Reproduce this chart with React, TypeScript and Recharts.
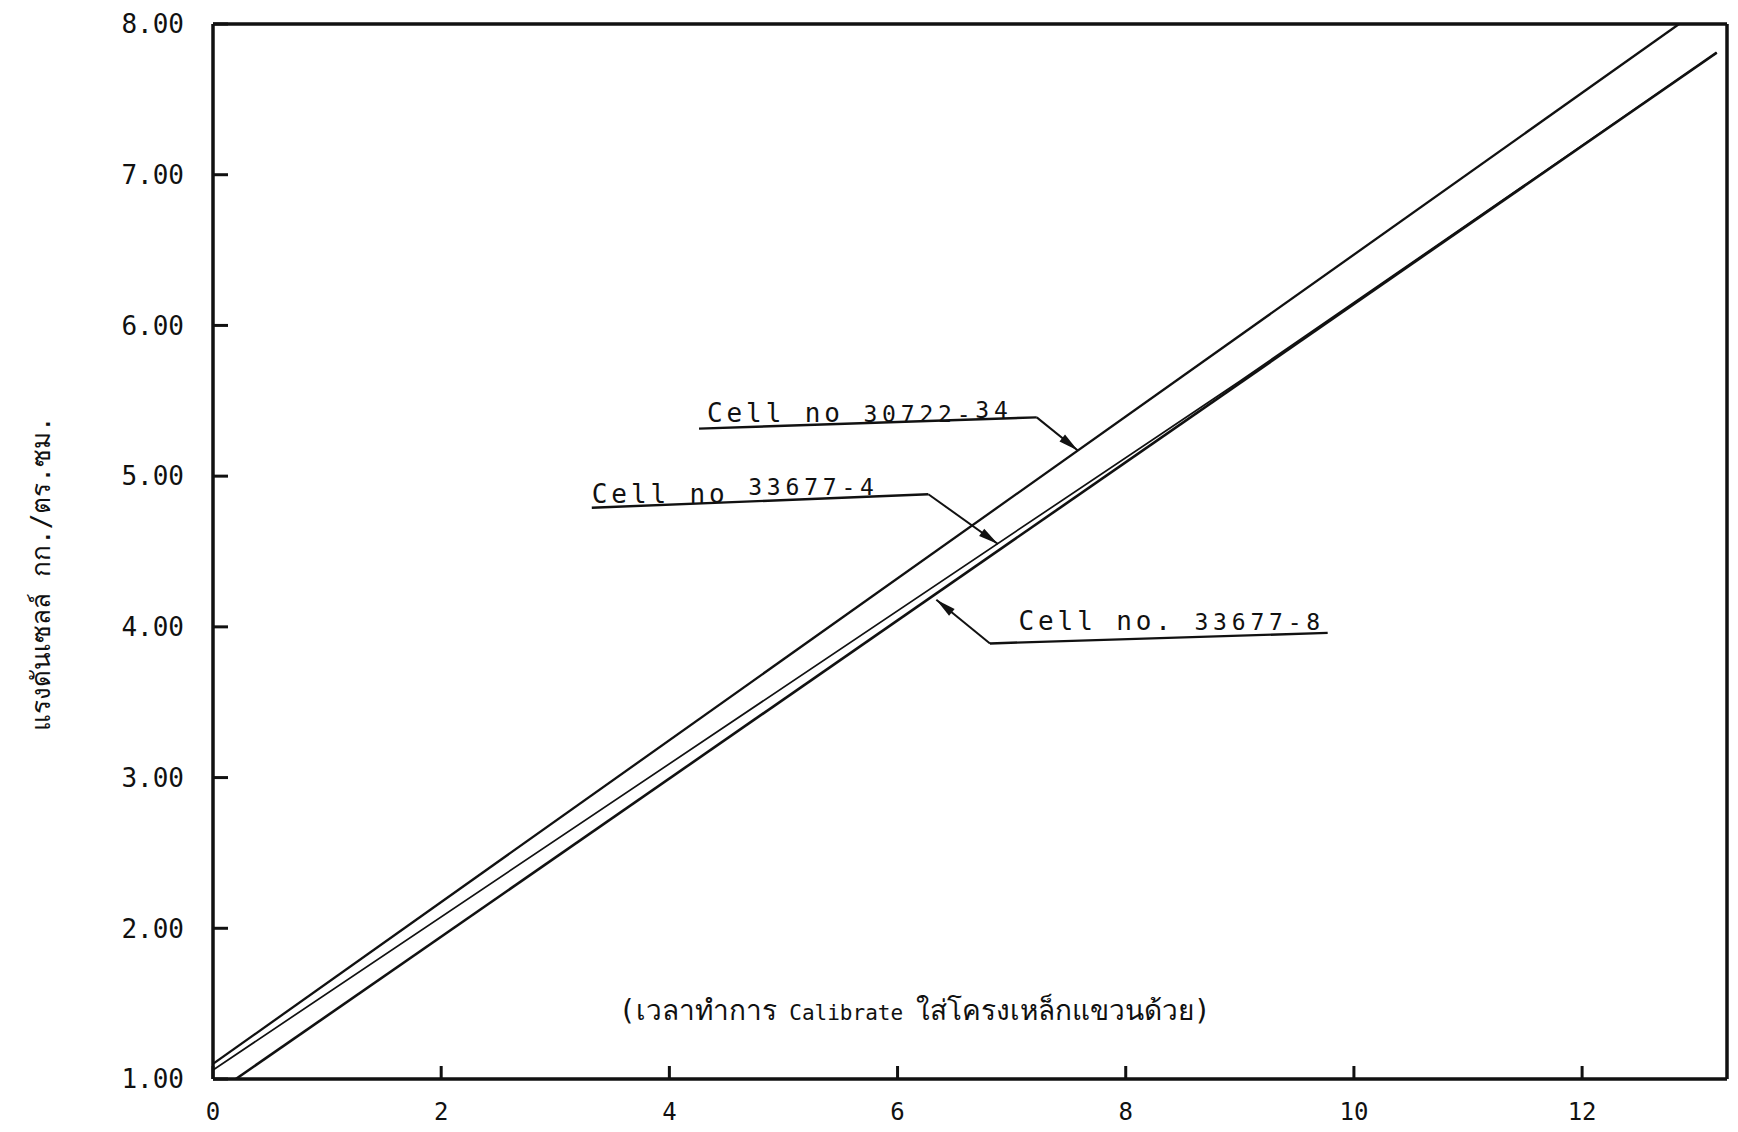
import React from "react";
import {
  LineChart,
  Line,
  XAxis,
  YAxis,
  ReferenceLine,
  ReferenceDot,
} from "recharts";

// calibration lines (time vs. cell pressure)
const X_TICKS = [0, 2, 4, 6, 8, 10, 12];
const Y_TICKS = [1, 2, 3, 4, 5, 6, 7, 8];
const X_MAX = 13.27;

const cell30722_34 = [
  { t: 0, p: 1.1 },
  { t: 12.85, p: 8.0 },
];
const cell33677_4 = [
  { t: 0, p: 1.06 },
  { t: 9.0, p: 5.63 },
  { t: 13.18, p: 7.81 },
];
const cell33677_8 = [
  { t: 0.2, p: 1.0 },
  { t: 13.18, p: 7.81 },
];

// leader annotations, in data units: text anchor, underline, arrow tip
const notes = [
  {
    id: "a",
    head: "Cell no ",
    code: [["30722-", 0], ["34", 4]] as [string, number][],
    textAt: [4.33, 5.36],
    under: [[4.26, 5.315], [7.22, 5.39]],
    arrow: [[7.22, 5.39], [7.58, 5.17]],
  },
  {
    id: "b",
    head: "Cell no ",
    code: [["33677-4", 8]] as [string, number][],
    textAt: [3.32, 4.825],
    under: [[3.32, 4.79], [6.27, 4.88]],
    arrow: [[6.27, 4.88], [6.88, 4.55]],
  },
  {
    id: "c",
    head: "Cell no. ",
    code: [["33677-8", 0]] as [string, number][],
    textAt: [7.06, 3.976],
    under: [[6.81, 3.89], [9.77, 3.96]],
    arrow: [[6.81, 3.89], [6.34, 4.18]],
  },
];

const NOTE_AT = [6.15, 1.39];
const NOTE_PARTS = ["(เวลาทำการ", " Calibrate ", "ใส่โครงเหล็กแขวนด้วย)"];
const Y_TITLE = "แรงดันเซลล์ กก./ตร.ซม.";

const INK = "#111";
const MONO = "'DejaVu Sans Mono', 'Liberation Mono', monospace";

function ArrowSeg(props: any) {
  const { x1, y1, x2, y2 } = props;
  const dx = x2 - x1;
  const dy = y2 - y1;
  const len = Math.hypot(dx, dy) || 1;
  const ux = dx / len;
  const uy = dy / len;
  const L = 20;
  const W = 4.4;
  const bx = x2 - ux * L;
  const by = y2 - uy * L;
  const pts = `${x2},${y2} ${bx - uy * W},${by + ux * W} ${bx + uy * W},${by - ux * W}`;
  return (
    <g>
      <line x1={x1} y1={y1} x2={x2} y2={y2} stroke={INK} strokeWidth={2} />
      <polygon points={pts} fill={INK} />
    </g>
  );
}

function UnderSeg(props: any) {
  const { x1, y1, x2, y2 } = props;
  return <line x1={x1} y1={y1} x2={x2} y2={y2} stroke={INK} strokeWidth={2.4} />;
}

function noteLabel(head: string, code: [string, number][]) {
  return function NoteText(props: any) {
    const { cx, cy } = props;
    let prev = 0;
    return (
      <text x={cx} y={cy} fill={INK} fontFamily={MONO}>
        <tspan fontSize={26} letterSpacing={3.9}>
          {head}
        </tspan>
        {code.map(([s, rise], i) => {
          const d = prev - rise;
          prev = rise;
          return (
            <tspan key={i} fontSize={23} letterSpacing={4.8} dy={d}>
              {s}
            </tspan>
          );
        })}
      </text>
    );
  };
}

function BottomNote(props: any) {
  const { cx, cy } = props;
  return (
    <text x={cx} y={cy} textAnchor="middle" fill={INK} fontFamily={MONO} fontSize={21}>
      <tspan fontSize={28}>{NOTE_PARTS[0]}</tspan>
      <tspan>{NOTE_PARTS[1]}</tspan>
      <tspan fontSize={28}>{NOTE_PARTS[2]}</tspan>
    </text>
  );
}

function YTitle(props: any) {
  const vb = props.viewBox || { x: 0, y: 23, width: 212, height: 1056 };
  const cx = vb.x + 41;
  const cy = vb.y + vb.height / 2 + 22;
  return (
    <text
      x={cx}
      y={cy}
      transform={`rotate(-90 ${cx} ${cy})`}
      textAnchor="middle"
      dominantBaseline="central"
      fill={INK}
      fontFamily={MONO}
      fontSize={26}
    >
      {Y_TITLE}
    </text>
  );
}

export default function App() {
  return (
    <div style={{ position: "absolute", left: 0, top: 0, width: 1738, height: 1132, background: "#fff" }}>
      <LineChart
        width={1738}
        height={1132}
        margin={{ top: 24, right: 11, left: 0, bottom: 0 }}
      >
        <XAxis
          dataKey="t"
          type="number"
          domain={[0, X_MAX]}
          ticks={X_TICKS}
          allowDataOverflow
          height={53}
          tickSize={-13}
          tickMargin={37}
          tick={{ fill: INK, fontSize: 24, fontFamily: MONO }}
          tickLine={{ stroke: INK, strokeWidth: 3 }}
          axisLine={{ stroke: INK, strokeWidth: 3.5 }}
        />
        <YAxis
          dataKey="p"
          type="number"
          domain={[1, 8]}
          ticks={Y_TICKS}
          allowDataOverflow
          width={213}
          tickSize={-15}
          tickMargin={44}
          tickFormatter={(v: number) => v.toFixed(2)}
          tick={{ fill: INK, fontSize: 26, fontFamily: MONO }}
          tickLine={{ stroke: INK, strokeWidth: 3 }}
          axisLine={{ stroke: INK, strokeWidth: 3.5 }}
          label={<YTitle />}
        />
        <ReferenceLine y={8} stroke={INK} strokeWidth={3.5} />
        <ReferenceLine x={X_MAX} stroke={INK} strokeWidth={3.5} />

        <Line data={cell30722_34} dataKey="p" type="linear" stroke={INK} strokeWidth={2.3} dot={false} isAnimationActive={false} />
        <Line data={cell33677_4} dataKey="p" type="linear" stroke={INK} strokeWidth={1.7} dot={false} isAnimationActive={false} />
        <Line data={cell33677_8} dataKey="p" type="linear" stroke={INK} strokeWidth={2.6} dot={false} isAnimationActive={false} />

        {notes.map((n) => (
          <ReferenceLine
            key={`u${n.id}`}
            segment={[
              { x: n.under[0][0], y: n.under[0][1] },
              { x: n.under[1][0], y: n.under[1][1] },
            ]}
            shape={UnderSeg}
          />
        ))}
        {notes.map((n) => (
          <ReferenceLine
            key={`a${n.id}`}
            segment={[
              { x: n.arrow[0][0], y: n.arrow[0][1] },
              { x: n.arrow[1][0], y: n.arrow[1][1] },
            ]}
            shape={ArrowSeg}
          />
        ))}
        {notes.map((n) => (
          <ReferenceDot
            key={`t${n.id}`}
            x={n.textAt[0]}
            y={n.textAt[1]}
            r={1}
            shape={noteLabel(n.head, n.code)}
          />
        ))}
        <ReferenceDot x={NOTE_AT[0]} y={NOTE_AT[1]} r={1} shape={BottomNote} />
      </LineChart>
    </div>
  );
}
